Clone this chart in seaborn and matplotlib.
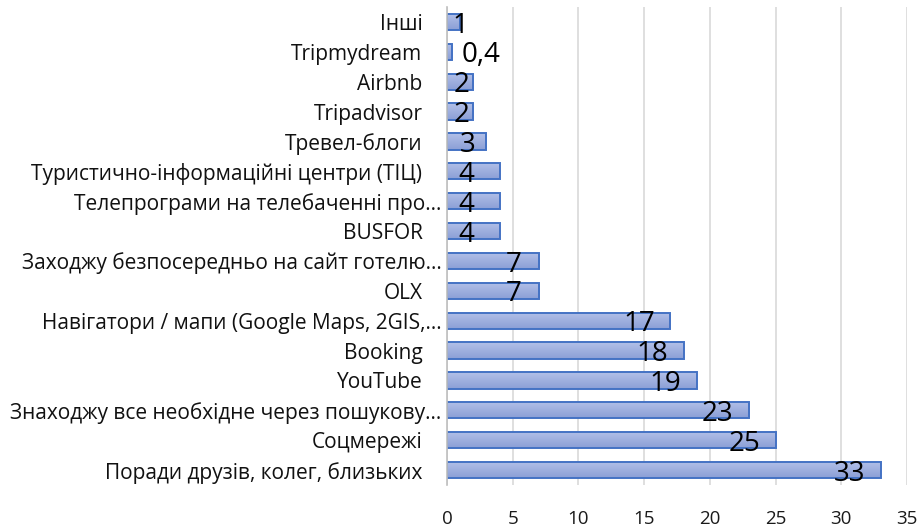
import matplotlib
matplotlib.use("Agg")
import matplotlib.pyplot as plt
import matplotlib.transforms as mtransforms
from matplotlib.colors import to_rgb
import seaborn as sns
import pandas as pd
import numpy as np

categories = [
    "Інші",
    "Tripmydream",
    "Airbnb",
    "Tripadvisor",
    "Тревел-блоги",
    "Туристично-інформаційні центри (ТІЦ)",
    "Телепрограми на телебаченні про…",
    "BUSFOR",
    "Заходжу безпосередньо на сайт готелю…",
    "OLX",
    "Навігатори / мапи (Google Maps, 2GIS,…",
    "Booking",
    "YouTube",
    "Знаходжу все необхідне через пошукову…",
    "Соцмережі",
    "Поради друзів, колег, близьких",
]
values = [1, 0.4, 2, 2, 3, 4, 4, 4, 7, 7, 17, 18, 19, 23, 25, 33]
value_labels = ["1", "0,4", "2", "2", "3", "4", "4", "4", "7", "7",
                "17", "18", "19", "23", "25", "33"]
x_ticks = [0, 5, 10, 15, 20, 25, 30, 35]

df = pd.DataFrame({"category": categories, "value": values})

sns.set_style("white")
plt.rcParams["font.family"] = ["Open Sans", "DejaVu Sans"]

fig = plt.figure(figsize=(9.21, 5.27), dpi=100)
ax = fig.add_axes([447 / 921, 1 - 485 / 527, 460 / 921, 478 / 527])

sns.barplot(data=df, x="value", y="category", orient="h", ax=ax,
            color="#9cade0", edgecolor="#4472c4", linewidth=1.4,
            width=0.54, saturation=1)

xlim = (0, 35)
ylim = ax.get_ylim()

# gradient fill inside each bar
top_c = np.array(to_rgb("#b3c0e8"))
bot_c = np.array(to_rgb("#8b9fd6"))
grad = np.linspace(0, 1, 64)[:, None, None]
grad_img = top_c[None, None, :] * (1 - grad) + bot_c[None, None, :] * grad
for p in ax.patches:
    x0, y0 = p.get_x(), p.get_y()
    w, h = p.get_width(), p.get_height()
    im = ax.imshow(grad_img, extent=(x0, x0 + w, y0 + h, y0), origin="upper",
                   aspect="auto", zorder=p.get_zorder(), interpolation="bilinear")
    im.set_clip_path(p)
    p.set_facecolor("none")
    p.set_zorder(p.get_zorder() + 0.5)

ax.set_xlim(*xlim)
ax.set_ylim(*ylim)
ax.set_xticks(x_ticks)
ax.set_xticklabels([str(t) for t in x_ticks], fontsize=13.5)
ax.tick_params(axis="x", length=0, pad=18, labelcolor="#1a1a1a")
ax.tick_params(axis="y", length=0, pad=4, labelsize=15, labelcolor="#111111")
ax.set_xlabel("")
ax.set_ylabel("")
ax.set_axisbelow(True)
ax.grid(axis="x", color="#d9d9d9", linewidth=1.2)
ax.grid(axis="y", visible=False)
for s in ["top", "right", "bottom"]:
    ax.spines[s].set_visible(False)
ax.spines["left"].set_color("#bfbfbf")
ax.spines["left"].set_linewidth(1.2)

# labels without ellipsis sit a bit further left (as in the original)
shift = mtransforms.ScaledTranslation(-0.19, 0, fig.dpi_scale_trans)
for lbl in ax.get_yticklabels():
    if not lbl.get_text().endswith("…"):
        lbl.set_transform(lbl.get_transform() + shift)

for i, (v, lab) in enumerate(zip(values, value_labels)):
    if v >= 7:
        lx = v - 2.4 if v > 7 else v - 1.9
    elif v >= 1:
        lx = max(v - 2.5, 1.1)
        if v == 1:
            lx = 1.05
        if v == 3:
            lx = 1.55
    else:
        lx = 2.6
    ax.text(lx, i + 0.12, lab, ha="center", va="center", fontsize=20,
            color="black", zorder=5)

fig.savefig("out.png", dpi=100)
